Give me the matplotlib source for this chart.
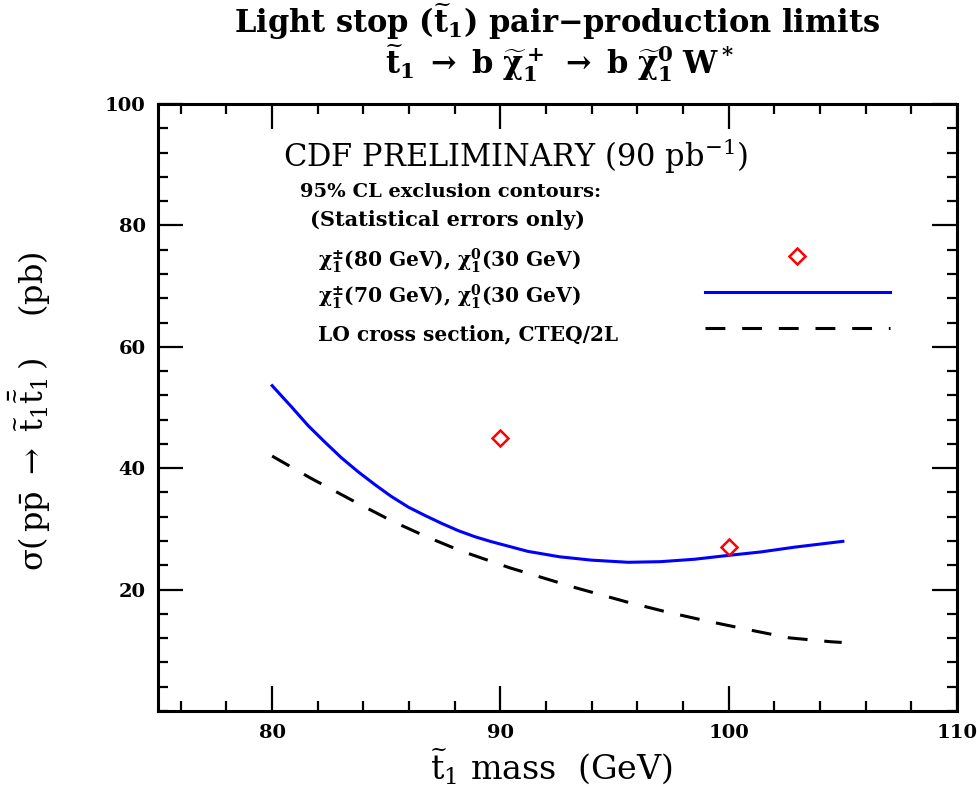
import matplotlib
matplotlib.use("Agg")
import matplotlib.pyplot as plt
from matplotlib.ticker import MultipleLocator, FixedLocator

plt.rcParams['font.family'] = ['DejaVu Serif']
plt.rcParams['mathtext.fontset'] = 'custom'
plt.rcParams['mathtext.rm'] = 'DejaVu Serif'
plt.rcParams['mathtext.it'] = 'DejaVu Serif:italic'
plt.rcParams['mathtext.bf'] = 'DejaVu Serif:bold'
plt.rcParams['mathtext.default'] = 'regular'

# ---- data ----
# 95% CL limit, chargino 70 GeV, neutralino 30 GeV
limit70_mass = [80.0, 80.85, 81.58, 82.31, 83.04, 83.77, 84.5, 85.2, 85.96,
                86.7, 87.43, 88.16, 88.89, 89.6, 90.3, 91.2, 92.6, 94.0,
                95.6, 97.0, 98.5, 99.9, 101.4, 102.9, 105.0]
limit70_xsec = [53.6, 50.1, 47.0, 44.3, 41.7, 39.4, 37.3, 35.4, 33.6,
                32.2, 30.9, 29.7, 28.7, 27.9, 27.2, 26.3, 25.4, 24.85,
                24.5, 24.6, 25.0, 25.6, 26.2, 27.0, 27.95]
# 95% CL limit points, chargino 80 GeV, neutralino 30 GeV
limit80_mass = [90, 100]
limit80_xsec = [45, 27]
# LO cross section, CTEQ/2L
lo_mass = [80.0, 81.67, 83.86, 85.3, 86.77, 88.25, 90.4, 91.9, 93.3, 95.5,
           97.3, 99.07, 100.86, 102.65, 104.5, 104.95]
lo_xsec = [42.0, 38.4, 34.0, 31.2, 28.7, 26.4, 23.6, 21.9, 20.3, 18.0,
           16.3, 14.8, 13.4, 12.05, 11.4, 11.3]

x_major = [80, 90, 100, 110]
y_major = [20, 40, 60, 80, 100]

W, H = 977, 790
fig = plt.figure(figsize=(W / 100, H / 100), dpi=100)
L, R, T, B = 158, 957, 104, 711
ax = fig.add_axes([L / W, 1 - B / H, (R - L) / W, (B - T) / H])

def fx(px):
    return px / W

def fy(py):
    return 1 - py / H

ax.plot(limit70_mass, limit70_xsec, color='#0000ff', lw=2.2,
        label=r'$\chi_1^{\pm}$(70 GeV), $\chi_1^{0}$(30 GeV)')
ax.plot(limit80_mass, limit80_xsec, ls='none', marker='D', ms=8, mfc='none',
        mec='#ff0000', mew=1.8,
        label=r'$\chi_1^{\pm}$(80 GeV), $\chi_1^{0}$(30 GeV)')
ax.plot(lo_mass, lo_xsec, color='black', lw=2.2, ls=(0, (6.5, 5.5)),
        label='LO cross section, CTEQ/2L')

ax.set_xlim(75, 110)
ax.set_ylim(0, 100)
ax.xaxis.set_major_locator(FixedLocator(x_major))
ax.xaxis.set_minor_locator(MultipleLocator(2))
ax.yaxis.set_major_locator(FixedLocator(y_major))
ax.yaxis.set_minor_locator(MultipleLocator(4))
ax.tick_params(which='both', direction='in', top=True, right=True, width=1.6)
ax.tick_params(which='major', length=18, labelsize=14, pad=9)
ax.tick_params(which='minor', length=7.5)
for lab in ax.get_xticklabels() + ax.get_yticklabels():
    lab.set_fontweight('bold')
for s in ax.spines.values():
    s.set_linewidth(2.2)

# legend (handles only, labels drawn as text)
h, l = ax.get_legend_handles_labels()
order = [1, 0, 2]
handles = [h[i] for i in order]
labels = [l[i] for i in order]
leg = ax.legend(handles, ['', '', ''], loc='upper left',
                bbox_to_anchor=((705 - L) / (R - L), (B - 249) / (B - T)),
                frameon=False, fontsize=14, handlelength=9.5, handletextpad=0,
                labelspacing=0.93, borderpad=0, borderaxespad=0, numpoints=1)

fs_leg = 14.5
for lab, yb in zip(labels, [267, 303, 340]):
    fig.text(fx(318), fy(yb), lab, fontsize=fs_leg, fontweight='bold',
             ha='left', va='baseline')
fig.text(fx(300), fy(197), '95% CL exclusion contours:', fontsize=14,
         fontweight='bold', ha='left', va='baseline')
fig.text(fx(310), fy(226), '(Statistical errors only)', fontsize=15,
         fontweight='bold', ha='left', va='baseline')
fig.text(fx(283), fy(167), r'CDF PRELIMINARY (90 pb$^{-1}$)', fontsize=22,
         ha='left', va='baseline')

# titles
fig.text(fx(557), fy(33), r'Light stop ($\widetilde{t}_1$) pair$-$production limits',
         fontsize=22, fontweight='bold', ha='center', va='baseline')
fig.text(fx(560), fy(74),
         r'$\widetilde{t}_1\ \rightarrow\ b\ \widetilde{\chi}_1^+\ \rightarrow\ b\ \widetilde{\chi}_1^0\ W^*$',
         fontsize=22, fontweight='bold', ha='center', va='baseline')

# axis labels
fig.text(fx(551), fy(780), r'$\widetilde{t}_1$ mass  (GeV)', fontsize=24,
         ha='center', va='baseline')
fig.text(fx(44), fy(411),
         r'$\sigma(\,p\bar{p}\ \rightarrow\ \widetilde{t}_1\bar{\widetilde{t}}_1\,)$    (pb)',
         fontsize=23, rotation=90, rotation_mode='anchor', ha='center',
         va='baseline')

fig.savefig('out.png', dpi=100)
